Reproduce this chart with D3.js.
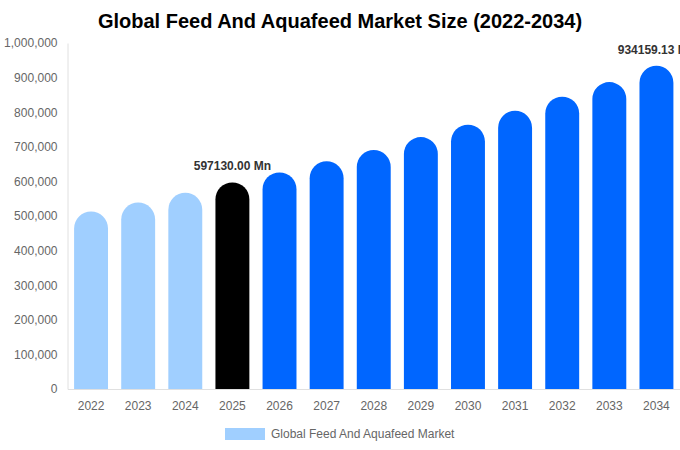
<!DOCTYPE html>
<html lang="en">
<head>
<meta charset="UTF-8">
<title>Global Feed And Aquafeed Market Size</title>
<script src="https://cdn.jsdelivr.net/npm/d3@7"></script>
<style>
  body { margin: 0; background: #fff; }
  svg { display: block; font-family: "Liberation Sans", Arial, sans-serif; }
</style>
</head>
<body>
<svg id="chart" width="680" height="450"></svg>
<script>
const years = ['2022','2023','2024','2025','2026','2027','2028','2029','2030','2031','2032','2033','2034'];
const values = [513000, 539000, 567000, 597130.00, 626000, 658000, 691000, 728000, 764000, 804000, 845000, 887000, 934159.13];
const yTicks = [0, 100000, 200000, 300000, 400000, 500000, 600000, 700000, 800000, 900000, 1000000];
const labelled = {'2025': '597130.00 Mn', '2034': '934159.13 Mn'};
const seriesName = 'Global Feed And Aquafeed Market';

const svg = d3.select('#chart');
const m = {top: 43, left: 67.5, right: 0, bottom: 61};
const w = 680 - m.left - m.right, h = 450 - m.top - m.bottom;

svg.append('text')
  .attr('x', 340).attr('y', 28)
  .attr('text-anchor', 'middle')
  .attr('font-size', 20).attr('font-weight', 'bold').attr('fill', '#000')
  .text('Global Feed And Aquafeed Market Size (2022-2034)');

const g = svg.append('g').attr('transform', `translate(${m.left},${m.top})`);

const x = d3.scaleBand().domain(years).range([0, w]).paddingInner(0.28).paddingOuter(0.14);
const y = d3.scaleLinear().domain([0, 1000000]).range([h, 0]);

// y axis
const yAxis = g.append('g').call(d3.axisLeft(y).tickValues(yTicks).tickSize(0).tickPadding(10)
  .tickFormat(d3.format(',')));
yAxis.select('.domain').attr('stroke', '#e0e0e0');
yAxis.selectAll('text').attr('fill', '#666').attr('font-size', 12);

// x axis
const xAxis = g.append('g').attr('transform', `translate(0,${h})`)
  .call(d3.axisBottom(x).tickSize(0).tickPadding(12));
xAxis.select('.domain').attr('stroke', '#e0e0e0');
xAxis.selectAll('text').attr('fill', '#666').attr('font-size', 12);

function color(yr) {
  if (+yr < 2025) return '#a0cfff';
  if (+yr === 2025) return '#000000';
  return '#0066ff';
}

// bars with rounded tops
g.selectAll('path.bar')
  .data(years.map((yr, i) => ({yr, v: values[i]})))
  .enter().append('path')
  .attr('class', 'bar')
  .attr('fill', d => color(d.yr))
  .attr('d', d => {
    const x0 = x(d.yr), bw = x.bandwidth(), r = bw / 2;
    const top = y(d.v), bot = y(0);
    return `M${x0},${bot} L${x0},${top + r} A${r},${r} 0 0 1 ${x0 + bw},${top + r} L${x0 + bw},${bot} Z`;
  });

g.selectAll('text.val')
  .data(years.filter(yr => labelled[yr]))
  .enter().append('text')
  .attr('class', 'val')
  .attr('x', yr => x(yr) + x.bandwidth() / 2)
  .attr('y', yr => y(values[years.indexOf(yr)]) - 12)
  .attr('text-anchor', 'middle')
  .attr('font-size', 12).attr('font-weight', 'bold').attr('fill', '#333')
  .text(yr => labelled[yr]);

// legend
const lg = svg.append('g').attr('transform', 'translate(225,428)');
lg.append('rect').attr('width', 40).attr('height', 12).attr('fill', '#a0cfff');
lg.append('text').attr('x', 46).attr('y', 10)
  .attr('font-size', 12).attr('fill', '#666').text(seriesName);
</script>
</body>
</html>
